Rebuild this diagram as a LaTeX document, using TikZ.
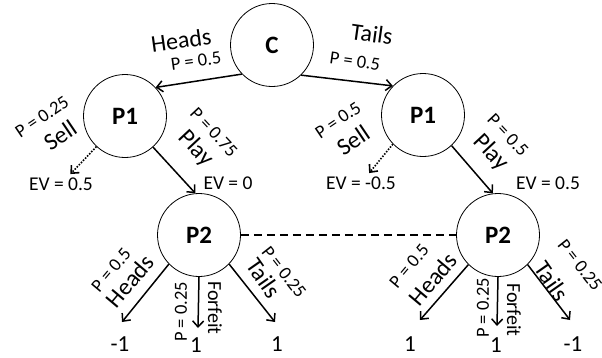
\documentclass[tikz,border=0pt]{standalone}
\usepackage{fontspec}
\setmainfont{Carlito}
\usetikzlibrary{arrows.meta,positioning}

\tikzset{
	player/.style={circle, draw, line width=0.8pt, minimum size=83pt, inner sep=0pt, font=\fontsize{25}{28}\selectfont\bfseries},
	move/.style={-{Straight Barb[length=6pt,width=11pt]}, line width=1.5pt},
	sell/.style={move, line width=1.6pt, dash pattern=on 1.5pt off 1.5pt},
	big/.style={font=\fontsize{24}{26}\selectfont, inner sep=0pt},
	prob/.style={font=\fontsize{18.5}{20}\selectfont, inner sep=0pt},
	ev/.style={font=\fontsize{19.5}{22}\selectfont},
	leaf/.style={font=\fontsize{23}{26}\selectfont, inner sep=1pt},
	quit/.style={font=\fontsize{20}{22}\selectfont, inner sep=0pt}
}

\begin{document}
\begin{tikzpicture}[x=1pt,y=-1pt]
	\useasboundingbox (0,0) rectangle (602,357);
	\node[player] (C) at (272,45) {C};
	\node[player] (P1h) at (125,116) {P1};
	\node[player] (P1t) at (423,115) {P1};
	\node[player] (P2h) at (199,235) {P2};
	\node[player] (P2t) at (498,235) {P2};
	\draw[line width=1.5pt, dash pattern=on 8pt off 5pt] (P2h) -- (P2t);
	\draw[move] (C.224) -- (P1h.43);
	\draw[move] (C.314) -- (P1t.136);
	\node[big, rotate=8] (headsC) at (181,40) {Heads};
	\node[prob, rotate=8] (pheadsC) at (196,61) {P = 0.5};
	\node[big, rotate=-8] (tailsC) at (372,34) {Tails};
	\node[prob, rotate=-8] (ptailsC) at (355,61) {P = 0.5};
	\node[ev] (evSh) at (61,184) {EV = 0.5};
	\node[ev] (evPh) at (228,183) {EV = 0};
	\node[ev] (evSt) at (361,183) {EV = -0.5};
	\node[ev] (evPt) at (548,183) {EV = 0.5};
	\draw[sell] (P1h.227) -- (evSh);
	\draw[sell] (P1t.224) -- (evSt);
	\draw[move] (P1h.312) -- (P2h.95);
	\draw[move] (P1t.313) -- (P2t.97);
	\node[prob, rotate=34] (psellh) at (42,117) {P = 0.25};
	\node[big, rotate=34] (sellh) at (60,135) {Sell};
	\node[prob, rotate=-47] (pplayh) at (214,132) {P = 0.75};
	\node[big, rotate=-47] (playh) at (196,149) {Play};
	\node[prob, rotate=34] (psellt) at (338,120) {P = 0.5};
	\node[big, rotate=34] (sellt) at (353,140) {Sell};
	\node[prob, rotate=-47] (pplayt) at (508,135) {P = 0.5};
	\node[big, rotate=-47] (playt) at (491,153) {Play};
	\coordinate (tHh) at (122,322);
	\coordinate (tFh) at (198,328);
	\coordinate (tTh) at (275,322);
	\draw[move] (P2h.224) -- (tHh);
	\draw[move] (P2h.270) -- (tFh);
	\draw[move] (P2h.316) -- (tTh);
	\node[leaf] (lHh) at (120,344) {-1};
	\node[leaf] (lFh) at (196,345) {1};
	\node[leaf] (lTh) at (277,344) {1};
	\node[prob, rotate=50] (pHh) at (111,270) {P = 0.5};
	\node[big, rotate=50] (Hh) at (130,281) {Heads};
	\node[prob, rotate=90] (pFh) at (181,312) {P = 0.25};
	\node[quit, rotate=-90] (Fh) at (215,308) {Forfeit};
	\node[big, rotate=-55] (Th) at (264,278) {Tails};
	\node[prob, rotate=-52] (pTh) at (284,272) {P = 0.25};
	\coordinate (tHt) at (420,320);
	\coordinate (tFt) at (497,326);
	\coordinate (tTt) at (570,320);
	\draw[move] (P2t.225) -- (tHt);
	\draw[move] (P2t.270) -- (tFt);
	\draw[move] (P2t.315) -- (tTt);
	\node[leaf] (lHt) at (410,344) {1};
	\node[leaf] (lFt) at (496,345) {1};
	\node[leaf] (lTt) at (573,344) {-1};
	\node[prob, rotate=50] (pHt) at (409,266) {P = 0.5};
	\node[big, rotate=50] (Ht) at (433,279) {Heads};
	\node[prob, rotate=90] (pFt) at (483,308) {P = 0.25};
	\node[quit, rotate=-90] (Ft) at (514,310) {Forfeit};
	\node[big, rotate=-55] (Tt) at (552,281) {Tails};
	\node[prob, rotate=-52] (pTt) at (580,265) {P = 0.25};
\end{tikzpicture}
\end{document}
